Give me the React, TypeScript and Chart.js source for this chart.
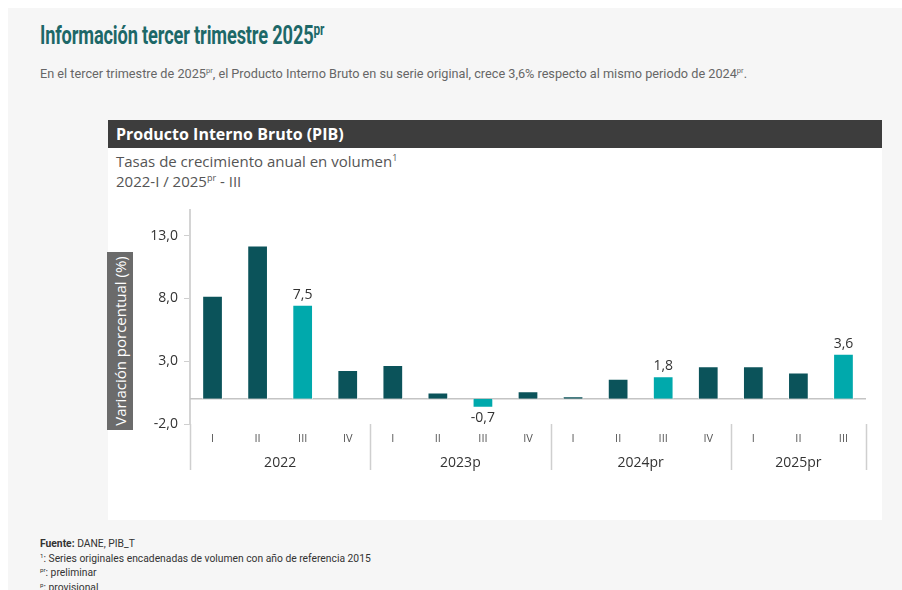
import React, { useEffect, useRef } from 'react';
import { Chart, registerables } from 'chart.js';

Chart.register(...registerables);

const quarters = ['I', 'II', 'III', 'IV', 'I', 'II', 'III', 'IV', 'I', 'II', 'III', 'IV', 'I', 'II', 'III'];
const years = ['2022', '2023p', '2024pr', '2025pr'];
const quartersPerYear = [4, 4, 4, 3];
const growth = [8.2, 12.2, 7.5, 2.3, 2.7, 0.5, -0.7, 0.6, 0.2, 1.6, 1.8, 2.6, 2.6, 2.1, 3.6];
const highlighted = [false, false, true, false, false, false, true, false, false, false, true, false, false, false, true];
const yTickValues = [-2, 3, 8, 13];
const yMin = -2;
const yMax = 15;

const DARK = '#0b535a';
const LIGHT = '#00a9ac';
const FONT = "'Open Sans', 'Noto Sans', sans-serif";

const fmt = (v: number) => v.toFixed(1).replace('.', ',');

const groupPlugin = {
  id: 'groupPlugin',
  beforeDatasetsDraw(chart: any) {
    const { ctx, chartArea, scales } = chart;
    const y0 = scales.y.getPixelForValue(0);
    ctx.save();
    ctx.strokeStyle = '#c4c4c4';
    ctx.lineWidth = 1.5;
    ctx.beginPath();
    ctx.moveTo(chartArea.left, y0);
    ctx.lineTo(chartArea.right, y0);
    ctx.stroke();
    ctx.restore();
  },
  afterDraw(chart: any) {
    const { ctx, chartArea, scales } = chart;
    const xs = scales.x;
    const half = (xs.getPixelForValue(1) - xs.getPixelForValue(0)) / 2;
    const top = chartArea.bottom;
    ctx.save();
    ctx.strokeStyle = '#cfcfcf';
    ctx.lineWidth = 1.5;
    let start = 0;
    const bounds: number[] = [];
    years.forEach((yr, g) => {
      const n = quartersPerYear[g];
      const left = xs.getPixelForValue(start) - half;
      const right = xs.getPixelForValue(start + n - 1) + half;
      bounds.push(left);
      if (g === years.length - 1) bounds.push(right);
      ctx.fillStyle = '#333';
      ctx.font = `14px ${FONT}`;
      ctx.textAlign = 'center';
      ctx.textBaseline = 'middle';
      ctx.fillText(yr, (left + right) / 2, top + 39);
      start += n;
    });
    bounds.forEach((b) => {
      const x = Math.round(b) + 0.5;
      ctx.beginPath();
      ctx.moveTo(x, top);
      ctx.lineTo(x, top + 46);
      ctx.stroke();
    });
    // value labels
    const meta = chart.getDatasetMeta(0);
    ctx.fillStyle = '#333';
    ctx.font = `14px ${FONT}`;
    ctx.textAlign = 'center';
    growth.forEach((v, i) => {
      if (!highlighted[i]) return;
      const el = meta.data[i];
      if (v >= 0) {
        ctx.textBaseline = 'bottom';
        ctx.fillText(fmt(v), el.x, el.y - 3);
      } else {
        ctx.textBaseline = 'top';
        ctx.fillText(fmt(v), el.x, el.y + 3);
      }
    });
    ctx.restore();
  },
};

function PibChart() {
  const ref = useRef<HTMLCanvasElement | null>(null);
  useEffect(() => {
    if (!ref.current) return;
    const chart = new Chart(ref.current, {
      type: 'bar',
      data: {
        labels: quarters,
        datasets: [
          {
            data: growth,
            backgroundColor: highlighted.map((h) => (h ? LIGHT : DARK)),
            borderColor: '#ffffff',
            borderWidth: 1,
            barPercentage: 0.46,
            categoryPercentage: 1,
          },
        ],
      },
      options: {
        animation: false,
        responsive: true,
        maintainAspectRatio: false,
        layout: { padding: { top: 10, right: 16, bottom: 0, left: 0 } },
        plugins: { legend: { display: false }, tooltip: { enabled: false } },
        scales: {
          x: {
            grid: { display: false, drawTicks: false },
            border: { display: false },
            ticks: { color: '#555', font: { family: FONT, size: 11 }, padding: 8, maxRotation: 0, autoSkip: false },
            afterFit(scale: any) {
              scale.height = 96;
            },
          },
          y: {
            min: yMin,
            max: yMax,
            afterBuildTicks(scale: any) {
              scale.ticks = yTickValues.map((v) => ({ value: v }));
            },
            grid: { drawOnChartArea: false, drawTicks: true, tickLength: 6, tickColor: '#cfcfcf' },
            border: { display: true, color: '#d4d4d4', width: 2 },
            ticks: {
              color: '#333',
              font: { family: FONT, size: 14 },
              padding: 6,
              callback: (v: any) => fmt(Number(v)),
            },
            afterFit(scale: any) {
              scale.width = 82;
            },
          },
        },
      },
      plugins: [groupPlugin],
    });
    return () => chart.destroy();
  }, []);
  return (
    <div style={{ position: 'absolute', left: 108, top: 196, width: 774, height: 324 }}>
      <canvas ref={ref} />
    </div>
  );
}

export default function App() {
  const sup = { fontSize: '0.6em', verticalAlign: 'super', lineHeight: 0 } as React.CSSProperties;
  return (
    <div style={{ position: 'absolute', left: 0, top: 0, width: 902, height: 590, overflow: 'hidden', background: '#fff' }}>
      <div style={{ position: 'absolute', left: 8, top: 8, width: 894, height: 582, background: '#f6f6f6' }} />
      <div
        style={{
          position: 'absolute',
          left: 40,
          top: 13,
          whiteSpace: 'nowrap',
          fontFamily: "Roboto, sans-serif",
          fontWeight: 700,
          fontSize: 26,
          color: '#1d6868',
          transform: 'scaleX(0.7)',
          transformOrigin: 'left top',
          lineHeight: '32px',
          letterSpacing: '-0.2px',
        }}
      >
        Información tercer trimestre 2025<span style={{ fontSize: 17, verticalAlign: 9 }}>pr</span>
      </div>
      <div
        style={{
          position: 'absolute',
          left: 40,
          top: 66,
          whiteSpace: 'nowrap',
          fontFamily: 'Roboto, sans-serif',
          fontSize: 12.7,
          color: '#666',
          lineHeight: '16px',
        }}
      >
        En el tercer trimestre de 2025<span style={sup}>pr</span>, el Producto Interno Bruto en su serie original, crece 3,6% respecto al mismo periodo de 2024<span style={sup}>pr</span>.
      </div>
      <div style={{ position: 'absolute', left: 108, top: 148, width: 774, height: 372, background: '#fff' }} />
      <div
        style={{
          position: 'absolute',
          left: 108,
          top: 120,
          width: 774,
          height: 28,
          background: '#3d3d3d',
          color: '#fff',
          fontFamily: FONT,
          fontWeight: 700,
          fontSize: 16,
          lineHeight: '28px',
          paddingLeft: 8,
          boxSizing: 'border-box',
        }}
      >
        Producto Interno Bruto (PIB)
      </div>
      <div style={{ position: 'absolute', left: 116, top: 151, fontFamily: FONT, fontSize: 15, color: '#555', lineHeight: '20px', whiteSpace: 'nowrap' }}>
        Tasas de crecimiento anual en volumen<span style={sup}>1</span>
        <br />
        2022-I / 2025<span style={sup}>pr</span> - III
      </div>
      <PibChart />
      <div
        style={{
          position: 'absolute',
          left: 107,
          top: 252,
          width: 26,
          height: 178,
          background: '#6b6b6b',
        }}
      >
        <div
          style={{
            position: 'absolute',
            left: 13,
            top: 89,
            transform: 'translate(-50%, -50%) rotate(-90deg)',
            whiteSpace: 'nowrap',
            color: '#fff',
            fontFamily: FONT,
            fontSize: 15,
          }}
        >
          Variación porcentual (%)
        </div>
      </div>
      <div style={{ position: 'absolute', left: 40, top: 537, fontFamily: 'Roboto, sans-serif', fontSize: 10.3, color: '#333', lineHeight: '14.5px', whiteSpace: 'nowrap' }}>
        <div><b>Fuente:</b> DANE, PIB_T</div>
        <div><span style={sup}>1</span>: Series originales encadenadas de volumen con año de referencia 2015</div>
        <div><span style={sup}>pr</span>: preliminar</div>
        <div><span style={sup}>p</span>: provisional</div>
      </div>
    </div>
  );
}
